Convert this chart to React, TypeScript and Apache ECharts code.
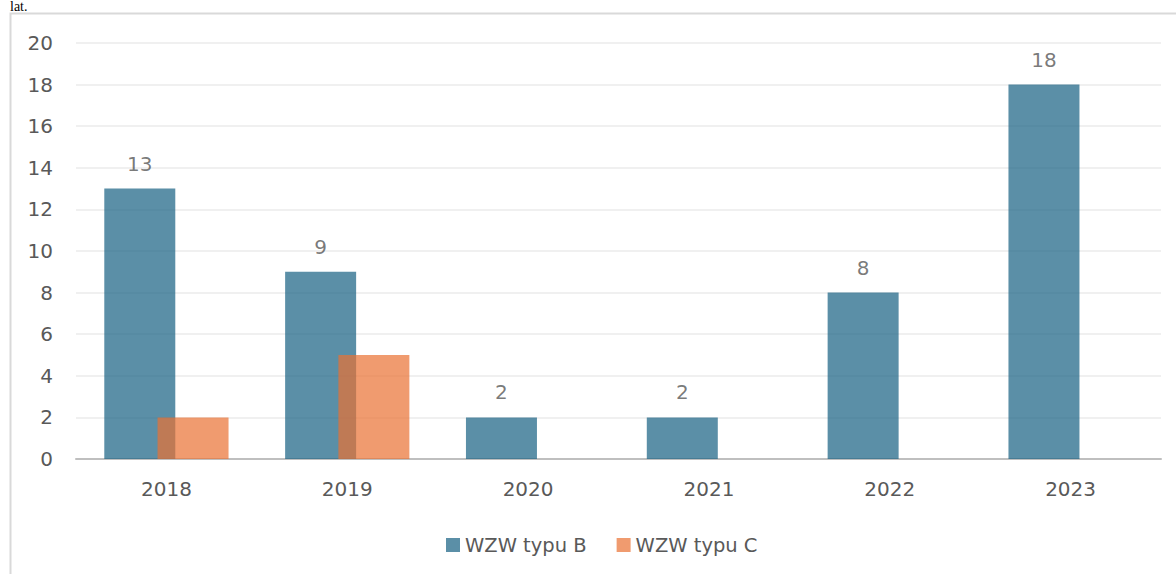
import React, { useEffect, useRef } from "react";
import * as echarts from "echarts";

const categories = ["2018", "2019", "2020", "2021", "2022", "2023"];
const seriesB = [13, 9, 2, 2, 8, 18];
const seriesC = [2, 5, 0, 0, 0, 0];
const seriesNames = ["WZW typu B", "WZW typu C"];
const yTicks = { min: 0, max: 20, interval: 2 };

const FONT = "'DejaVu Sans', 'Open Sans', sans-serif";

export default function App() {
  const ref = useRef<HTMLDivElement>(null);
  useEffect(() => {
    if (!ref.current) return;
    const chart = echarts.init(ref.current, null, { renderer: "svg" });
    chart.setOption({
      animation: false,
      textStyle: { fontFamily: FONT },
      graphic: [
        {
          type: "rect",
          shape: { x: 10.5, y: 13.5, width: 1300, height: 700 },
          style: { fill: "none", stroke: "#d9d9d9", lineWidth: 2 },
          silent: true,
        },
        {
          type: "text",
          x: 10,
          y: 0,
          style: {
            text: "lat.",
            fontFamily: "'Liberation Serif', 'DejaVu Serif', serif",
            fontSize: 14,
            lineHeight: 13,
            fill: "#000",
            verticalAlign: "top",
          },
        },
      ],
      grid: { left: 76, right: 15, top: 43, bottom: 115 },
      legend: {
        left: 446,
        top: 535,
        padding: 0,
        itemWidth: 14,
        itemHeight: 14,
        itemGap: 30,
        icon: "rect",
        textStyle: { fontSize: 19.5, color: "#595959", fontFamily: FONT },
        data: seriesNames,
      },
      xAxis: {
        type: "category",
        data: categories,
        axisLine: { lineStyle: { color: "#bfbfbf", width: 2 } },
        axisTick: { show: false },
        axisLabel: { fontSize: 20, color: "#595959", margin: 20, fontFamily: FONT },
      },
      yAxis: {
        type: "value",
        min: yTicks.min,
        max: yTicks.max,
        interval: yTicks.interval,
        axisLine: { show: false },
        axisTick: { show: false },
        splitLine: { lineStyle: { color: "#ebebeb", width: 1.5 } },
        axisLabel: { fontSize: 20, color: "#595959", margin: 23, fontFamily: FONT },
      },
      series: [
        {
          name: seriesNames[0],
          type: "bar",
          data: seriesB,
          barWidth: 71,
          barGap: "-25%",
          itemStyle: { color: "#156082", opacity: 0.7 },
          label: {
            show: true,
            position: "top",
            distance: 15,
            fontSize: 20,
            color: "#404040",
            fontFamily: FONT,
          },
        },
        {
          name: seriesNames[1],
          type: "bar",
          data: seriesC,
          barWidth: 71,
          barGap: "-25%",
          itemStyle: { color: "#E97132", opacity: 0.7 },
        },
      ],
    });
    return () => chart.dispose();
  }, []);
  return (
    <div
      ref={ref}
      style={{ position: "absolute", left: 0, top: 0, width: 1176, height: 574 }}
    />
  );
}
